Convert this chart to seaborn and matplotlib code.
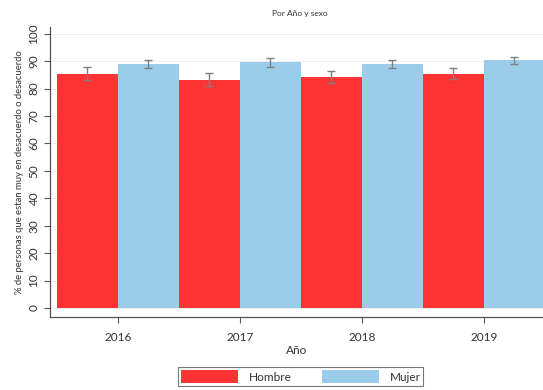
import matplotlib
matplotlib.use("Agg")
import matplotlib.pyplot as plt
import seaborn as sns
import pandas as pd
import numpy as np

years = ["2016", "2017", "2018", "2019"]
hombre = [85.4, 83.2, 84.2, 85.5]
mujer = [88.9, 89.6, 88.9, 90.4]
hombre_err = [2.3, 2.4, 2.1, 2.1]
mujer_err = [1.5, 1.6, 1.5, 1.3]
sexes = ["Hombre", "Mujer"]
colors = ["#FF3333", "#9BCDEB"]

sns.set_theme(style="white")
plt.rcParams['font.family'] = ['Lato', 'DejaVu Sans']

df = pd.DataFrame({
    "Año": years * 2,
    "valor": hombre + mujer,
    "sexo": ["Hombre"] * 4 + ["Mujer"] * 4,
})

fig = plt.figure(figsize=(5.43, 3.9), dpi=100)
ax = fig.add_axes([0.092, 0.187, 0.908, 0.744])
ax.set_axisbelow(True)
ax.yaxis.grid(True, color="#EEEEEE", linewidth=0.8)

sns.barplot(data=df, x="Año", y="valor", hue="sexo", palette=colors,
            errorbar=None, width=1.0, saturation=1, linewidth=0,
            ax=ax, legend=True)

# error bars
pos = np.arange(len(years))
ax.errorbar(pos - 0.25, hombre, yerr=hombre_err, fmt="none", ecolor="#7F7F7F",
            elinewidth=1, capsize=3, capthick=1)
ax.errorbar(pos + 0.25, mujer, yerr=mujer_err, fmt="none", ecolor="#7F7F7F",
            elinewidth=1, capsize=3, capthick=1)

ax.set_xlim(-0.557, 3.484)
ax.set_ylim(-3.3, 102.5)
ax.set_yticks(range(0, 101, 10))
ax.tick_params(axis="y", labelrotation=90, labelsize=8.5, length=4, width=0.8,
               color="#555555", left=True, labelcolor="#333333")
ax.tick_params(axis="x", labelsize=8.5, length=4, width=0.8, color="#555555",
               bottom=True, labelcolor="#333333", pad=7)
for lab in ax.get_yticklabels():
    lab.set_verticalalignment("center")

for side in ["top", "right"]:
    ax.spines[side].set_visible(False)
for side in ["left", "bottom"]:
    ax.spines[side].set_color("#555555")
    ax.spines[side].set_linewidth(0.9)

ax.set_xlabel("Año", fontsize=8.5, color="#333333", labelpad=1)
ax.set_ylabel("% de personas que estan muy en desacuerdo o desacuerdo",
              fontsize=6.8, color="#333333", labelpad=3)
ax.set_title("Por Año y sexo", fontsize=6, color="#333333", pad=8, x=0.507)

ax.legend(loc="center", bbox_to_anchor=(0.509, -0.205),
          ncol=2, frameon=True, fancybox=False, edgecolor="#555555",
          fontsize=8.5, handlelength=4.8, handleheight=1.25, columnspacing=2.6,
          borderpad=0.25, handletextpad=0.9, title=None)
leg = ax.get_legend()
leg.get_frame().set_linewidth(0.8)
for t in leg.get_texts():
    t.set_color("#333333")

fig.savefig("out.png", dpi=100)
